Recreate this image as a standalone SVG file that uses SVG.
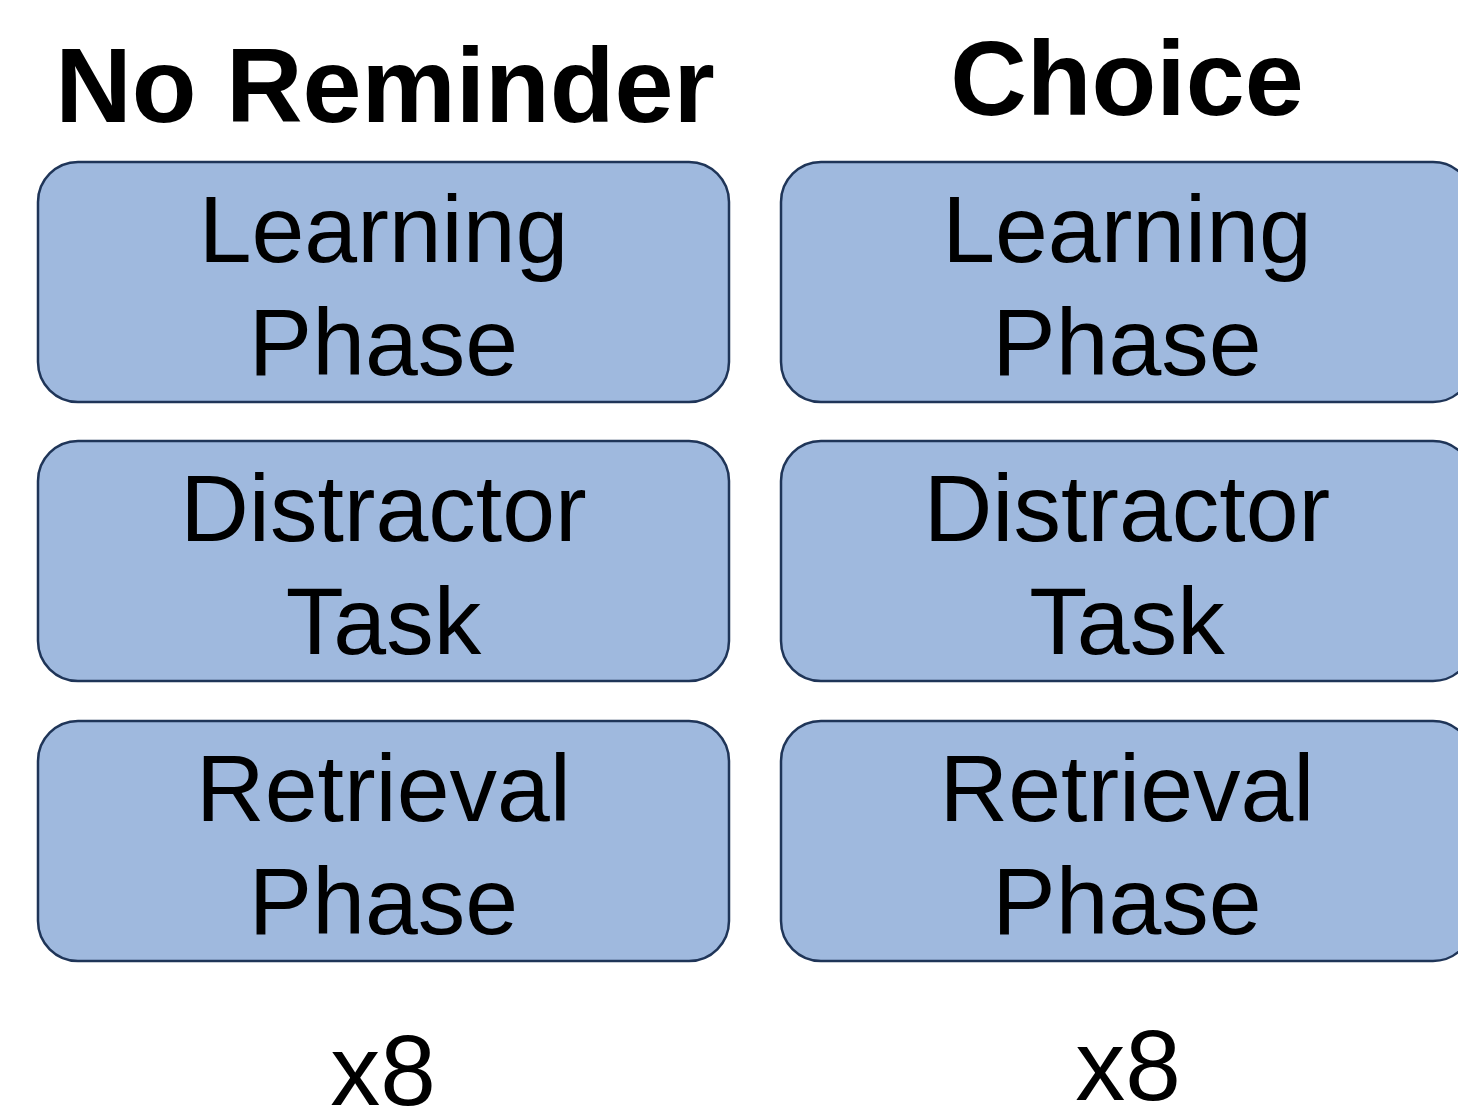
<svg xmlns="http://www.w3.org/2000/svg" width="1458" height="1113" viewBox="0 0 1458 1113">
  <style>
    .box { fill: #9fb9de; stroke: #1f3558; stroke-width: 2.5; }
    .lbl { font-family: "Liberation Sans", Arial, sans-serif; font-size: 95px; fill: #000; text-anchor: middle; }
    .ttl { font-family: "Liberation Sans", Arial, sans-serif; font-size: 106px; font-weight: bold; fill: #000; text-anchor: middle; }
    .rep { font-family: "Liberation Sans", Arial, sans-serif; font-size: 100px; fill: #000; text-anchor: middle; }
  </style>
  <rect width="1458" height="1113" fill="#ffffff"/>

  <!-- Column titles -->
  <text class="ttl" x="385" y="122">No Reminder</text>
  <text class="ttl" x="1127" y="115">Choice</text>

  <!-- No Reminder column -->
  <g id="nr-learning">
    <rect class="box" x="38" y="162" width="691" height="240" rx="40"/>
    <text class="lbl" x="383.5" y="262">Learning</text>
    <text class="lbl" x="383.5" y="375">Phase</text>
  </g>
  <g id="nr-distractor">
    <rect class="box" x="38" y="441" width="691" height="240" rx="40"/>
    <text class="lbl" x="383.5" y="541">Distractor</text>
    <text class="lbl" x="383.5" y="654">Task</text>
  </g>
  <g id="nr-retrieval">
    <rect class="box" x="38" y="721" width="691" height="240" rx="40"/>
    <text class="lbl" x="383.5" y="821">Retrieval</text>
    <text class="lbl" x="383.5" y="934">Phase</text>
  </g>
  <text class="rep" x="383" y="1105">x8</text>

  <!-- Choice column -->
  <g id="ch-learning">
    <rect class="box" x="781" y="162" width="692" height="240" rx="40"/>
    <text class="lbl" x="1127" y="262">Learning</text>
    <text class="lbl" x="1127" y="375">Phase</text>
  </g>
  <g id="ch-distractor">
    <rect class="box" x="781" y="441" width="692" height="240" rx="40"/>
    <text class="lbl" x="1127" y="541">Distractor</text>
    <text class="lbl" x="1127" y="654">Task</text>
  </g>
  <g id="ch-retrieval">
    <rect class="box" x="781" y="721" width="692" height="240" rx="40"/>
    <text class="lbl" x="1127" y="821">Retrieval</text>
    <text class="lbl" x="1127" y="934">Phase</text>
  </g>
  <text class="rep" x="1128" y="1100">x8</text>

  <!-- Connectors: none drawn -->
  <g id="connectors"/>
</svg>
